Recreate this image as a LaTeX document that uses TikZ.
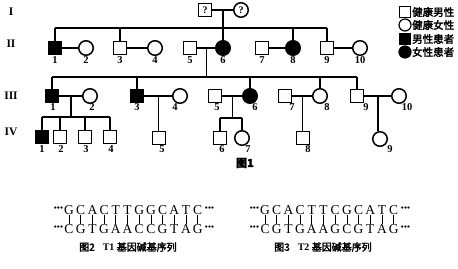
\documentclass[tikz,border=0pt]{standalone}
\usepackage{fontspec}
\setmainfont{Liberation Serif}
\newfontfamily\cjk[FakeBold=2.5]{Noto Sans CJK SC}
\usetikzlibrary{calc}
\newcommand{\mydots}{·\kern-1.4pt·\kern-1.4pt·}
\tikzset{
  ind/.style={draw, line width=1.5pt, inner sep=0pt},
  male/.style={ind, rectangle, minimum size=13pt},
  female/.style={ind, circle, minimum size=14.5pt},
  amale/.style={male, fill=black},
  afemale/.style={female, fill=black},
  lab/.style={font=\fontsize{10.5}{10.5}\selectfont\bfseries, inner sep=0pt},
  genlab/.style={font=\fontsize{11.5}{11.5}\selectfont\bfseries, inner sep=0pt},
  ln/.style={line width=1.5pt},
  leg/.style={font=\cjk\fontsize{10.5}{10.5}\selectfont, anchor=west, inner sep=0pt},
  seqtxt/.style={font=\fontsize{13.5}{13.5}\selectfont, inner sep=0.3pt},
  dotstxt/.style={font=\fontsize{13.5}{13.5}\selectfont\bfseries, inner sep=0pt},
  captxt/.style={font=\cjk\fontsize{10}{10}\selectfont, inner sep=0pt}
}
\begin{document}
\begin{tikzpicture}[x=1pt,y=-1pt]
\useasboundingbox (0,0) rectangle (458,268);
% generation labels
\node[genlab] (gI) at (11,12) {I};
\node[genlab] (gII) at (11,44) {II};
\node[genlab] (gIII) at (11,96) {III};
\node[genlab] (gIV) at (11,132) {IV};
% Generation I
\node[male] (I1) at (205,10) {\fontsize{10}{10}\selectfont\bfseries ?};
\node[female] (I2) at (241,10) {\fontsize{10}{10}\selectfont\bfseries ?};
\draw[ln] (I1) -- (I2);
% Generation II
\node[amale] (II1) at (55,48) {};
\node[female] (II2) at (86,48) {};
\node[male] (II3) at (120,48) {};
\node[female] (II4) at (155,48) {};
\node[male] (II5) at (190,48) {};
\node[afemale] (II6) at (223,48) {};
\node[male] (II7) at (262,48) {};
\node[afemale] (II8) at (293,48) {};
\node[male] (II9) at (327,48) {};
\node[female] (II10) at (360,48) {};
\foreach \n/\x in {1/55,2/86,3/120,4/155,5/190,6/223,7/262,8/293,9/327,10/360}
  \node[lab] (lII\n) at (\x,60) {\n};
\coordinate (s1L) at (55,28);
\coordinate (s1R) at (327,28);
\coordinate (Ic) at ($(I1)!0.5!(I2)$);
\draw[ln] (s1L) -- (s1R);
\draw[ln] (Ic) -- (Ic |- II6.north);
\foreach \n in {II1,II3,II8,II9}
  \draw[ln] (\n.north) -- (\n.north |- s1L);
\foreach \a/\b in {II1/II2,II3/II4,II5/II6,II7/II8,II9/II10}
  \draw[ln] (\a) -- (\b);
% Generation III
\node[amale] (III1) at (52,96) {};
\node[female] (III2) at (90,96) {};
\node[amale] (III3) at (137,96) {};
\node[female] (III4) at (180,96) {};
\node[male] (III5) at (215,96) {};
\node[afemale] (III6) at (250,96) {};
\node[male] (III7) at (285,96) {};
\node[female] (III8) at (320,96) {};
\node[male] (III9) at (357,96) {};
\node[female] (III10) at (399,96) {};
\foreach \n/\x in {1/53,2/92,3/137,4/175,5/217,6/255,7/292,8/327,9/366,10/407}
  \node[lab] (lIII\n) at (\x,107) {\n};
\coordinate (m56) at ($(II5)!0.5!(II6)$);
\coordinate (s2L) at (52,77);
\coordinate (s2R) at (357,77);
\draw[ln] (m56) -- (m56 |- s2L);
\draw[ln] (s2L) -- (s2R);
\foreach \n in {III1,III3,III6,III8,III9}
  \draw[ln] (\n.north) -- (\n.north |- s2L);
\foreach \a/\b in {III1/III2,III3/III4,III5/III6,III7/III8,III9/III10}
  \draw[ln] (\a) -- (\b);
% Generation IV
\node[amale] (IV1) at (42,137) {};
\node[male] (IV2) at (60,137) {};
\node[male] (IV3) at (85,137) {};
\node[male] (IV4) at (110,137) {};
\node[male] (IV5) at (159,138) {};
\node[male] (IV6) at (220,138) {};
\node[female] (IV7) at (242,138) {};
\node[male] (IV8) at (303,138) {};
\node[female] (IV9) at (380,139) {};
\foreach \n/\x in {1/42,2/61,3/86,4/111,5/162,6/222,7/248,8/308,9/390}
  \node[lab] (lIV\n) at (\x,149) {\n};
\coordinate (m12) at ($(III1)!0.5!(III2)$);
\coordinate (s3L) at (42,117);
\coordinate (s3R) at (110,117);
\draw[ln] (m12) -- (m12 |- s3L);
\draw[ln] (s3L) -- (s3R);
\foreach \n in {IV1,IV2,IV3,IV4}
  \draw[ln] (\n.north) -- (\n.north |- s3L);
\coordinate (m34) at ($(III3)!0.5!(III4)$);
\draw[ln] (m34) -- (m34 |- IV5.north);
\coordinate (m56b) at ($(III5)!0.5!(III6)$);
\coordinate (s4L) at (220,118);
\coordinate (s4R) at (242,118);
\draw[ln] (m56b) -- (m56b |- s4L);
\draw[ln] (s4L) -- (s4R);
\foreach \n in {IV6,IV7}
  \draw[ln] (\n.north) -- (\n.north |- s4L);
\coordinate (m78) at ($(III7)!0.5!(III8)$);
\draw[ln] (m78) -- (m78 |- IV8.north);
\coordinate (m910) at ($(III9)!0.5!(III10)$);
\draw[ln] (m910) -- (m910 |- IV9.north);
\node[font=\cjk\fontsize{11}{11}\selectfont\bfseries, inner sep=0pt] (f1) at (245,163) {图1};
% legend
\node[male, minimum size=11pt, line width=1.2pt] (L1) at (405,12) {};
\node[leg] (Lt1) at (412,12) {健康男性};
\node[female, minimum size=12pt, line width=1.2pt] (L2) at (405,25) {};
\node[leg] (Lt2) at (412,25) {健康女性};
\node[amale, minimum size=11pt, line width=1.2pt] (L3) at (405,39) {};
\node[leg] (Lt3) at (412,39) {男性患者};
\node[afemale, minimum size=12pt, line width=1.2pt] (L4) at (405,52) {};
\node[leg] (Lt4) at (412,52) {女性患者};
% sequences
\foreach \i/\t/\b in {1/G/C,2/C/G,3/A/T,4/C/G,5/T/A,6/T/A,7/G/C,8/G/C,9/C/G,10/A/T,11/T/A,12/C/G} {
  \node[seqtxt] (a\i) at ({69+11.7*(\i-1)},210) {\t};
  \node[seqtxt] (b\i) at ({69+11.7*(\i-1)},229) {\b};
  \draw[line width=0.8pt] (a\i.south) -- (b\i.north);
}
\node[dotstxt, anchor=east] (ae1) at (64,210) {\mydots};
\node[dotstxt, anchor=west] (ae2) at (204,210) {\mydots};
\node[dotstxt, anchor=east] (be1) at (64,229) {\mydots};
\node[dotstxt, anchor=west] (be2) at (204,229) {\mydots};
\node[captxt] (c2) at (128,247) {图2\hspace{8pt}{\bfseries\rmfamily T1} 基因碱基序列};
\foreach \i/\t/\b in {1/G/C,2/C/G,3/A/T,4/C/G,5/T/A,6/T/A,7/C/G,8/G/C,9/C/G,10/A/T,11/T/A,12/C/G} {
  \node[seqtxt] (c\i) at ({265+11.7*(\i-1)},210) {\t};
  \node[seqtxt] (d\i) at ({265+11.7*(\i-1)},229) {\b};
  \draw[line width=0.8pt] (c\i.south) -- (d\i.north);
}
\node[dotstxt, anchor=east] (ce1) at (260,210) {\mydots};
\node[dotstxt, anchor=west] (ce2) at (400,210) {\mydots};
\node[dotstxt, anchor=east] (de1) at (260,229) {\mydots};
\node[dotstxt, anchor=west] (de2) at (400,229) {\mydots};
\node[captxt] (c3) at (323,247) {图3\hspace{8pt}{\bfseries\rmfamily T2} 基因碱基序列};
\end{tikzpicture}
\end{document}
